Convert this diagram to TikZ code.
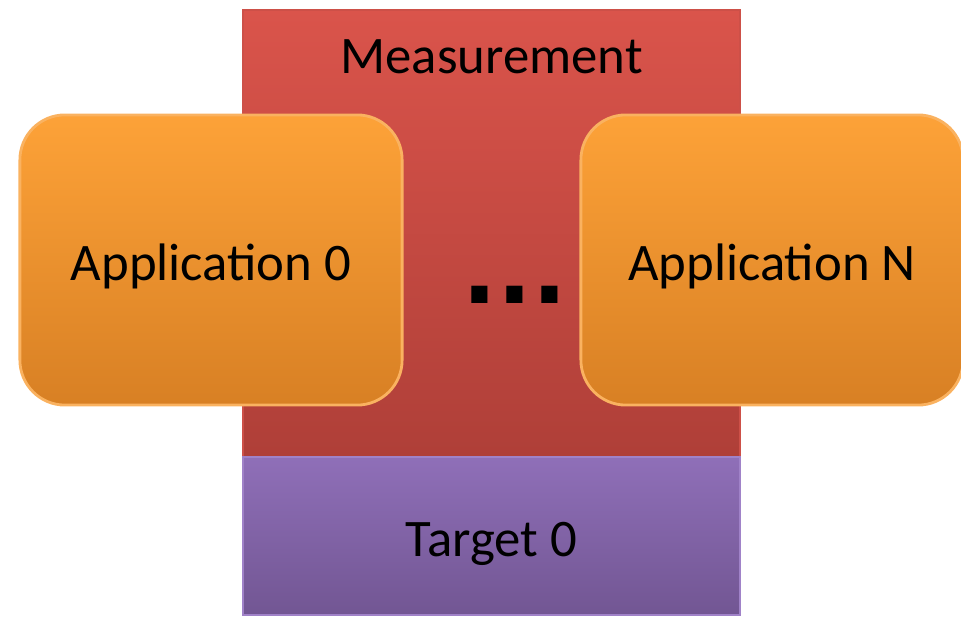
\documentclass[tikz,border=0pt]{standalone}
\usepackage{fontspec}
\setmainfont{Carlito}
\newfontfamily\dotfont{DejaVu Sans}
\usepackage{tikz}
\usetikzlibrary{positioning}

\definecolor{measTop}{RGB}{218,84,75}
\definecolor{measBot}{RGB}{175,63,56}
\definecolor{measLine}{RGB}{205,80,72}
\definecolor{tgtTop}{RGB}{143,111,184}
\definecolor{tgtBot}{RGB}{114,86,147}
\definecolor{tgtLine}{RGB}{160,130,200}
\definecolor{appTop}{RGB}{253,162,56}
\definecolor{appBot}{RGB}{216,128,36}
\definecolor{appLine}{RGB}{250,178,96}

\tikzset{
  measbox/.style={rectangle, minimum width=4.97cm, minimum height=4.47cm, inner sep=0pt,
    top color=measTop, bottom color=measBot, draw=measLine, line width=0.6pt},
  tgtbox/.style={rectangle, minimum width=4.97cm, minimum height=1.58cm, inner sep=0pt,
    top color=tgtTop, bottom color=tgtBot, draw=tgtLine, line width=0.6pt},
  appbox/.style={rectangle, rounded corners=0.45cm, minimum width=3.82cm, minimum height=2.90cm,
    inner sep=0pt, top color=appTop, bottom color=appBot, draw=appLine, line width=0.8pt},
  boxtext/.style={font=\fontsize{15}{18}\selectfont, text=black}
}

\begin{document}
\begin{tikzpicture}[x=0.01cm, y=-0.01cm]
  \useasboundingbox (0,0) rectangle (961,619);
  % stack
  \node[measbox] (meas) at (491.5,233.5) {};
  \node[tgtbox] (tgt) at (491.5,536) {};
  \node[boxtext] (meastxt) at (491.5,57) {Measurement};
  \node[boxtext] (tgttxt) at (491.5,544) {Target 0};
  % applications
  \node[appbox] (app0) at (211,260) {};
  \node[appbox] (appN) at (772,260) {};
  \node[boxtext] (app0txt) at (211,266) {Application 0};
  \node[boxtext] (appNtxt) at (772,266) {Application N};
  \node[font=\dotfont\bfseries\fontsize{26}{28}\selectfont, anchor=base, inner sep=0pt] (dots) at (515,304) {...};
\end{tikzpicture}
\end{document}
